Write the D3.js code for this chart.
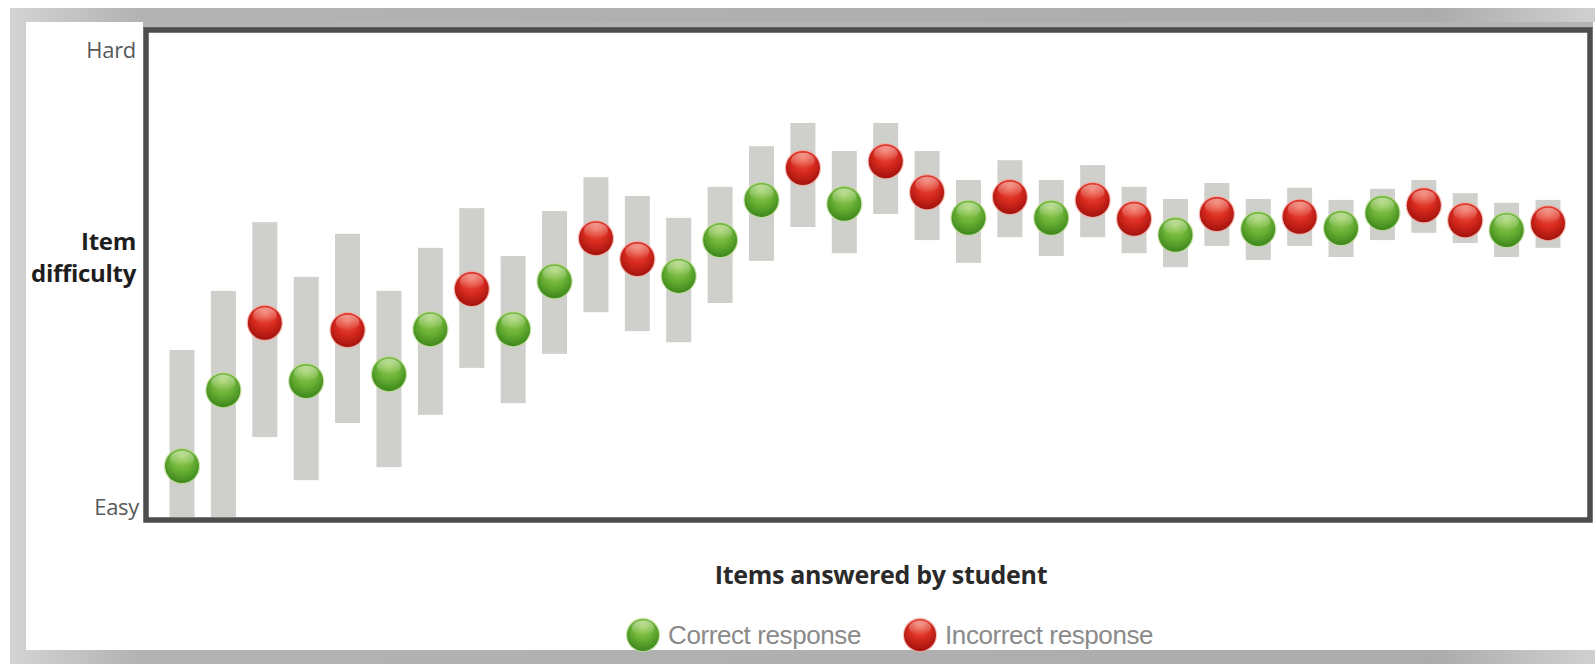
<!DOCTYPE html>
<html>
<head>
<meta charset="utf-8">
<script src="https://cdn.jsdelivr.net/npm/d3@7"></script>
<style>
  html, body { margin: 0; padding: 0; background: #ffffff; }
  svg { display: block; }
</style>
</head>
<body>
<svg id="chart" width="1595" height="664"></svg>
<script>
// ---- data (difficulty on a 0 (Easy) .. 100 (Hard) scale) ----
const items = d3.range(1, 35);
const responses = ["C","C","I","C","I","C","C","I","C","C","I","I","C","C","C","I","C","I","I","C","I","C","I","I","C","I","C","I","C","C","I","I","C","I"];
const difficulty = [10.1,25.8,39.7,27.7,38.2,29.1,38.4,46.7,38.4,48.3,57.2,52.9,49.4,56.8,65.1,71.7,64.3,73.1,66.7,61.4,65.7,61.4,65.1,61.2,57.9,62.2,59.1,61.6,59.3,62.4,64.0,60.9,58.9,60.3];
const rangeHigh = [34.1,46.3,60.5,49.2,58.1,46.3,55.2,63.4,53.5,62.8,69.8,65.9,61.4,67.8,76.2,81.0,75.2,81.0,75.2,69.2,73.3,69.2,72.3,67.8,65.3,68.6,65.3,67.6,65.1,67.4,69.2,66.5,64.5,65.1];
const rangeLow = [0,0,16.1,7.2,19.0,9.9,20.7,30.4,23.1,33.3,41.9,38.0,35.7,43.8,52.5,59.5,54.1,62.2,56.8,52.1,57.4,53.5,57.4,54.1,51.2,55.6,52.7,55.6,53.3,56.8,58.3,56.2,53.3,55.2];
const yTickLabels = ["Easy", "Hard"];
const yTitle = ["Item", "difficulty"];
const xTitle = "Items answered by student";
const legendLabels = ["Correct response", "Incorrect response"];

// ---- layout ----
const svg = d3.select("#chart");
const plot = { left: 146, top: 30, right: 1590, bottom: 520 };
const inner = { top: 32, bottom: 517 };

const x = d3.scalePoint().domain(items).range([182, 1548]);
const y = d3.scaleLinear().domain([0, 100]).range([515, 31]);

// ---- defs ----
const defs = svg.append("defs");
const frameGrad = defs.append("linearGradient").attr("id", "frameGrad").attr("x1", "0").attr("x2", "1").attr("y1", "0").attr("y2", "0");
frameGrad.append("stop").attr("offset", "0").attr("stop-color", "#d4d4d4");
frameGrad.append("stop").attr("offset", "0.08").attr("stop-color", "#b3b3b3");
frameGrad.append("stop").attr("offset", "0.9").attr("stop-color", "#acacac");
frameGrad.append("stop").attr("offset", "1").attr("stop-color", "#d0d0d0");

function ballGrad(id, light, mid, dark) {
  const g = defs.append("radialGradient").attr("id", id)
    .attr("cx", "0.5").attr("cy", "0.38").attr("r", "0.6").attr("fx", "0.5").attr("fy", "0.2");
  g.append("stop").attr("offset", "0").attr("stop-color", light);
  g.append("stop").attr("offset", "0.55").attr("stop-color", mid);
  g.append("stop").attr("offset", "1").attr("stop-color", dark);
}
ballGrad("gGreen", "#9ccf5a", "#6cb236", "#3f8a1d");
ballGrad("gRed", "#f0604a", "#d92b1f", "#a5140e");
const hl = defs.append("linearGradient").attr("id", "hl").attr("x1", "0").attr("x2", "0").attr("y1", "0").attr("y2", "1");
hl.append("stop").attr("offset", "0").attr("stop-color", "#ffffff").attr("stop-opacity", 0.45);
hl.append("stop").attr("offset", "1").attr("stop-color", "#ffffff").attr("stop-opacity", 0);

defs.append("clipPath").attr("id", "plotClip").append("rect")
  .attr("x", plot.left).attr("y", inner.top).attr("width", plot.right - plot.left).attr("height", inner.bottom - inner.top);

// ---- frame ----
svg.append("rect").attr("x", 10).attr("y", 8).attr("width", 1585).attr("height", 656).attr("fill", "url(#frameGrad)");
svg.append("rect").attr("x", 26).attr("y", 22).attr("width", 1569).attr("height", 628).attr("fill", "#ffffff");
svg.append("rect").attr("x", 143).attr("y", 22).attr("width", 1450).attr("height", 7).attr("fill", "#b4b4b4");

// ---- bars ----
const g = svg.append("g").attr("clip-path", "url(#plotClip)");
g.selectAll("rect.range").data(items).join("rect")
  .attr("class", "range")
  .attr("x", d => x(d) - 12.5)
  .attr("width", 25)
  .attr("y", (d, i) => y(rangeHigh[i]))
  .attr("height", (d, i) => (rangeLow[i] === 0 ? inner.bottom : y(rangeLow[i])) - y(rangeHigh[i]))
  .attr("fill", "#cfcfcb");

// ---- balls ----
function ball(sel, cx, cy, r, type) {
  const isC = type === "C";
  sel.append("circle").attr("cx", cx).attr("cy", cy).attr("r", r + 1.2)
    .attr("fill", isC ? "#b9dc8f" : "#f2a59c").attr("opacity", 0.7);
  sel.append("circle").attr("cx", cx).attr("cy", cy).attr("r", r)
    .attr("fill", isC ? "url(#gGreen)" : "url(#gRed)");
  sel.append("ellipse").attr("cx", cx).attr("cy", cy - r * 0.45).attr("rx", r * 0.7).attr("ry", r * 0.45)
    .attr("fill", "url(#hl)");
}
const balls = g.append("g");
items.forEach((d, i) => {
  ball(balls.append("g"), x(d), y(difficulty[i]), 17, responses[i]);
});

// ---- plot border ----
svg.append("rect")
  .attr("x", plot.left).attr("y", plot.top)
  .attr("width", plot.right - plot.left).attr("height", plot.bottom - plot.top)
  .attr("fill", "none").attr("stroke", "#4d4d4d").attr("stroke-width", 5.5);

// ---- y labels ----
svg.append("text").attr("x", 136).attr("y", 58).attr("text-anchor", "end")
  .attr("font-family", "Open Sans").attr("font-size", 22).attr("fill", "#5a5a5a")
  .attr("letter-spacing", -0.3).text(yTickLabels[1]);
svg.append("text").attr("x", 139).attr("y", 515).attr("text-anchor", "end")
  .attr("font-family", "Open Sans").attr("font-size", 22).attr("fill", "#5a5a5a")
  .attr("letter-spacing", -0.3).text(yTickLabels[0]);
yTitle.forEach((t, i) => {
  svg.append("text").attr("x", 136).attr("y", 250 + i * 32).attr("text-anchor", "end")
    .attr("font-family", "Open Sans").attr("font-weight", "bold").attr("font-size", 24)
    .attr("fill", "#1e1e1e").attr("letter-spacing", -0.3).text(t);
});

// ---- x title ----
svg.append("text").attr("x", 881).attr("y", 584).attr("text-anchor", "middle")
  .attr("font-family", "Open Sans").attr("font-weight", "bold").attr("font-size", 25)
  .attr("fill", "#2a2a2a").attr("letter-spacing", -0.3).text(xTitle);

// ---- legend ----
const legendX = [643, 920];
const legendTypes = ["C", "I"];
legendLabels.forEach((t, i) => {
  const lg = svg.append("g");
  ball(lg, legendX[i], 635, 16, legendTypes[i]);
  lg.append("text").attr("x", legendX[i] + 25).attr("y", 644)
    .attr("font-family", "Liberation Sans").attr("font-size", 26)
    .attr("fill", "#8a8a8a").attr("letter-spacing", -0.4).text(t);
});
</script>
</body>
</html>
